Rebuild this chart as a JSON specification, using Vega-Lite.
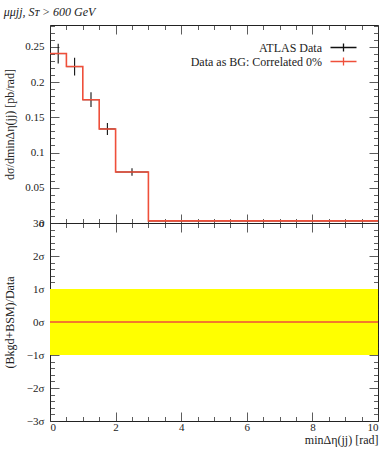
{
  "$schema": "https://vega.github.io/schema/vega-lite/v6.json",
  "padding": {"left": 2, "top": 5, "right": 5, "bottom": 5},
  "bounds": "flush",
  "config": {
    "font": "Liberation Serif",
    "view": {"stroke": "#222222", "strokeWidth": 1},
    "axis": {"domain": false, "grid": false, "tickColor": "#333333", "tickWidth": 0.8, "labelFont": "Liberation Serif", "labelFontSize": 11, "labelColor": "#222222", "titleFont": "Liberation Serif", "titleFontSize": 12, "titleFontWeight": "normal", "titleColor": "#222222"},
    "legend": {"labelFont": "Liberation Serif", "labelFontSize": 12, "labelColor": "#222222"},
    "title": {"font": "Liberation Serif", "fontSize": 12, "fontStyle": "italic", "fontWeight": "normal", "anchor": "start", "color": "#222222"}
  },
  "datasets": {
    "edges": [
      {"x": 0, "y": 0.2405},
      {"x": 0.5, "y": 0.222},
      {"x": 1, "y": 0.175},
      {"x": 1.5, "y": 0.1335},
      {"x": 2, "y": 0.0724},
      {"x": 3, "y": 0.003},
      {"x": 10, "y": 0.003}
    ],
    "bins": [
      {"lo": 0, "hi": 0.5, "ctr": 0.25, "val": 0.2405, "err": 0.014},
      {"lo": 0.5, "hi": 1, "ctr": 0.75, "val": 0.222, "err": 0.0125},
      {"lo": 1, "hi": 1.5, "ctr": 1.25, "val": 0.175, "err": 0.0105},
      {"lo": 1.5, "hi": 2, "ctr": 1.75, "val": 0.1335, "err": 0.0085},
      {"lo": 2, "hi": 3, "ctr": 2.5, "val": 0.0724, "err": 0.0052},
      {"lo": 3, "hi": 10, "ctr": 6.5, "val": 0.003, "err": 0.0006}
    ],
    "band": [{"lo": 0, "hi": 10, "blo": -1, "bhi": 1, "mid": 0}]
  },
  "spacing": 0,
  "vconcat": [
    {
      "title": {"text": "μμjj, Sᴛ > 600 GeV", "offset": 6},
      "width": 328,
      "height": 198,
      "layer": [
        {
          "data": {"name": "bins"},
          "transform": [{"calculate": "datum.val - datum.err", "as": "ylo"}, {"calculate": "datum.val + datum.err", "as": "yhi"}],
          "mark": {"type": "rule", "strokeWidth": 1.1},
          "encoding": {
            "x": {"field": "ctr", "type": "quantitative", "scale": {"domain": [0, 10], "nice": false, "zero": false},
              "axis": {"orient": "bottom", "title": null, "values": [0,0.5,1,1.5,2,2.5,3,3.5,4,4.5,5,5.5,6,6.5,7,7.5,8,8.5,9,9.5,10], "labels": false,
                "tickSize": {"condition": {"test": "datum.value % 2 === 0", "value": -9}, "value": -4.5}}},
            "y": {"field": "ylo", "type": "quantitative", "scale": {"domain": [0, 0.281], "nice": false, "zero": false},
              "axis": {"orient": "left", "title": "dσ/dminΔη(jj) [pb/rad]", "titlePadding": 8,
                "values": [0,0.01,0.02,0.03,0.04,0.05,0.06,0.07,0.08,0.09,0.1,0.11,0.12,0.13,0.14,0.15,0.16,0.17,0.18,0.19,0.2,0.21,0.22,0.23,0.24,0.25,0.26,0.27,0.28],
                "labelExpr": "round(datum.value*100) % 5 === 0 ? format(datum.value, '.2~f') : ''",
                "labelPadding": 15,
                "tickSize": {"condition": {"test": "round(datum.value*100) % 5 === 0", "value": -9}, "value": -4.5}}},
            "y2": {"field": "yhi"},
            "color": {"datum": "ATLAS Data", "type": "nominal",
              "scale": {"domain": ["ATLAS Data", "Data as BG: Correlated 0%"], "range": ["#111111", "#ef4f3a"]},
              "legend": {"title": null, "orient": "none", "legendX": 286, "legendY": 15, "padding": 0, "rowPadding": -1,
                "symbolType": "M-2,0H2M0,-0.6V0.6", "symbolSize": 169, "symbolStrokeWidth": 1.3, "symbolFillColor": "transparent",
                "encode": {"labels": {"update": {"x": {"value": -14}, "align": {"value": "right"}}}}}}
          }
        },
        {
          "data": {"name": "bins"},
          "mark": {"type": "rule", "strokeWidth": 1.1},
          "encoding": {
            "x": {"field": "lo", "type": "quantitative",
              "axis": {"orient": "top", "title": null, "values": [0,0.5,1,1.5,2,2.5,3,3.5,4,4.5,5,5.5,6,6.5,7,7.5,8,8.5,9,9.5,10], "labels": false,
                "tickSize": {"condition": {"test": "datum.value % 2 === 0", "value": -9}, "value": -4.5}}},
            "x2": {"field": "hi"},
            "y": {"field": "val", "type": "quantitative",
              "axis": {"orient": "right", "title": null, "labels": false,
                "values": [0,0.01,0.02,0.03,0.04,0.05,0.06,0.07,0.08,0.09,0.1,0.11,0.12,0.13,0.14,0.15,0.16,0.17,0.18,0.19,0.2,0.21,0.22,0.23,0.24,0.25,0.26,0.27,0.28],
                "tickSize": {"condition": {"test": "round(datum.value*100) % 5 === 0", "value": -9}, "value": -4.5}}},
            "color": {"datum": "ATLAS Data", "type": "nominal"}
          }
        },
        {
          "data": {"name": "edges"},
          "mark": {"type": "line", "interpolate": "step-after", "strokeWidth": 1.6},
          "encoding": {
            "x": {"field": "x", "type": "quantitative", "axis": null},
            "y": {"field": "y", "type": "quantitative", "axis": null},
            "color": {"datum": "Data as BG: Correlated 0%", "type": "nominal"}
          }
        }
      ],
      "resolve": {"axis": {"x": "independent", "y": "independent"}}
    },
    {
      "width": 328,
      "height": 198,
      "data": {"name": "band"},
      "layer": [
        {
          "mark": {"type": "rect", "color": "#ffff00"},
          "encoding": {
            "x": {"field": "lo", "type": "quantitative", "scale": {"domain": [0, 10], "nice": false, "zero": false},
              "axis": {"orient": "bottom", "title": "minΔη(jj) [rad]", "titleAnchor": "end", "titlePadding": 2,
                "values": [0,0.5,1,1.5,2,2.5,3,3.5,4,4.5,5,5.5,6,6.5,7,7.5,8,8.5,9,9.5,10],
                "labelExpr": "datum.value % 2 === 0 ? format(datum.value, 'd') : ''", "labelPadding": 9,
                "tickSize": {"condition": {"test": "datum.value % 2 === 0", "value": -9}, "value": -4.5}}},
            "x2": {"field": "hi"},
            "y": {"field": "blo", "type": "quantitative", "scale": {"domain": [-3, 3], "nice": false, "zero": false},
              "axis": {"orient": "left", "title": "(Bkgd+BSM)/Data", "titlePadding": 10,
                "values": [-3,-2.8,-2.6,-2.4,-2.2,-2,-1.8,-1.6,-1.4,-1.2,-1,-0.8,-0.6,-0.4,-0.2,0,0.2,0.4,0.6,0.8,1,1.2,1.4,1.6,1.8,2,2.2,2.4,2.6,2.8,3],
                "labelExpr": "abs(datum.value - round(datum.value)) < 0.01 ? format(datum.value, 'd') + 'σ' : ''", "labelPadding": 15,
                "tickSize": {"condition": {"test": "abs(datum.value - round(datum.value)) < 0.01", "value": -9}, "value": -4.5}}},
            "y2": {"field": "bhi"}
          }
        },
        {
          "mark": {"type": "rule", "color": "#ef4f3a", "strokeWidth": 1.4},
          "encoding": {
            "x": {"field": "lo", "type": "quantitative",
              "axis": {"orient": "top", "title": null, "labels": false,
                "values": [0,0.5,1,1.5,2,2.5,3,3.5,4,4.5,5,5.5,6,6.5,7,7.5,8,8.5,9,9.5,10],
                "tickSize": {"condition": {"test": "datum.value % 2 === 0", "value": -9}, "value": -4.5}}},
            "x2": {"field": "hi"},
            "y": {"field": "mid", "type": "quantitative",
              "axis": {"orient": "right", "title": null, "labels": false,
                "values": [-3,-2.8,-2.6,-2.4,-2.2,-2,-1.8,-1.6,-1.4,-1.2,-1,-0.8,-0.6,-0.4,-0.2,0,0.2,0.4,0.6,0.8,1,1.2,1.4,1.6,1.8,2,2.2,2.4,2.6,2.8,3],
                "tickSize": {"condition": {"test": "abs(datum.value - round(datum.value)) < 0.01", "value": -9}, "value": -4.5}}}
          }
        }
      ],
      "resolve": {"axis": {"x": "independent", "y": "independent"}}
    }
  ]
}
